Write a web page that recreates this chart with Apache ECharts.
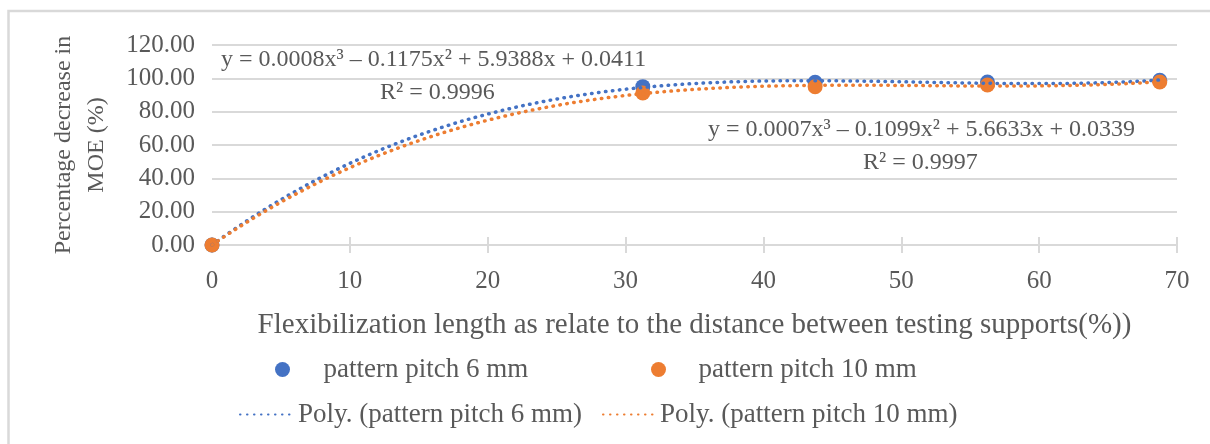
<!DOCTYPE html>
<html>
<head>
<meta charset="utf-8">
<script src="https://cdn.jsdelivr.net/npm/echarts@6/dist/echarts.min.js"></script>
<style>
html, body { margin: 0; padding: 0; background: #fff; }
#chart { width: 1210px; height: 444px; }
</style>
</head>
<body>
<div id="chart"></div>
<script>
// values
var xValues = [0, 31.25, 43.75, 56.25, 68.75];
var pitch6 = [0, 95.0, 97.6, 97.8, 98.8];
var pitch10 = [0, 91.2, 95.0, 96.0, 97.8];
var seriesNames = ['pattern pitch 6 mm', 'pattern pitch 10 mm'];
var trendNames = ['Poly. (pattern pitch 6 mm)', 'Poly. (pattern pitch 10 mm)'];
var equations = ['y = 0.0008x³ – 0.1175x² + 5.9388x + 0.0411', 'y = 0.0007x³ – 0.1099x² + 5.6633x + 0.0339'];
var rSquared = ['R² = 0.9996', 'R² = 0.9997'];
var colors = ['#4472C4', '#ED7D31'];

var FONT = 'Liberation Serif';
var TXT = '#595959';

// least squares polynomial fit (like the excel trendline)
function polyfit(xs, ys, deg) {
    var n = deg + 1, A = [], i, j, k;
    for (i = 0; i < n; i++) {
        A.push([]);
        for (j = 0; j < n; j++) {
            var s = 0;
            xs.forEach(function (x) { s += Math.pow(x, i + j); });
            A[i].push(s);
        }
        var t = 0;
        xs.forEach(function (x, m) { t += ys[m] * Math.pow(x, i); });
        A[i].push(t);
    }
    for (i = 0; i < n; i++) {
        var p = i;
        for (k = i + 1; k < n; k++) if (Math.abs(A[k][i]) > Math.abs(A[p][i])) p = k;
        var tmp = A[i]; A[i] = A[p]; A[p] = tmp;
        for (k = i + 1; k < n; k++) {
            var f = A[k][i] / A[i][i];
            for (j = i; j <= n; j++) A[k][j] -= f * A[i][j];
        }
    }
    var c = new Array(n);
    for (i = n - 1; i >= 0; i--) {
        var s2 = A[i][n];
        for (j = i + 1; j < n; j++) s2 -= A[i][j] * c[j];
        c[i] = s2 / A[i][i];
    }
    return c;
}

function trendPoints(ys) {
    var c = polyfit(xValues, ys, 3);
    var pts = [];
    var xmax = xValues[xValues.length - 1];
    for (var x = 0; x <= xmax + 1e-9; x += 0.25) {
        pts.push([x, c[0] + c[1] * x + c[2] * x * x + c[3] * x * x * x]);
    }
    return pts;
}

function pairs(ys) {
    return xValues.map(function (x, i) { return [x, ys[i]]; });
}

var chart = echarts.init(document.getElementById('chart'));

var legendText = { fontFamily: FONT, fontSize: 27, color: TXT };
var eqFont = '24px "' + FONT + '"';

chart.setOption({
    animation: false,
    textStyle: { fontFamily: FONT },
    grid: { left: 212, right: 33, top: 45, bottom: 199 },
    xAxis: [{
        type: 'value', min: 0, max: 70, interval: 10,
        name: 'Flexibilization length as relate to the distance between testing supports(%))',
        nameLocation: 'middle', nameGap: 66,
        nameTextStyle: { fontFamily: FONT, fontSize: 29, color: TXT },
        axisLine: { show: true, lineStyle: { color: '#d9d9d9', width: 2 } },
        axisTick: { show: true, length: 8, lineStyle: { color: '#d9d9d9', width: 2 } },
        axisLabel: { margin: 24, fontFamily: FONT, fontSize: 25, color: TXT },
        splitLine: { show: false }
    }, {
        type: 'value', min: 0, max: 70, interval: 10, position: 'bottom',
        axisLine: { show: false },
        axisTick: { show: true, inside: true, length: 8, lineStyle: { color: '#d9d9d9', width: 2 } },
        axisLabel: { show: false },
        splitLine: { show: false }
    }],
    yAxis: {
        type: 'value', min: 0, max: 120, interval: 20,
        name: 'Percentage decrease in\nMOE (%)',
        nameLocation: 'middle', nameGap: 99, nameRotate: 90,
        nameTextStyle: { fontFamily: FONT, fontSize: 24, color: TXT, lineHeight: 33 },
        axisLine: { show: false },
        axisTick: { show: false },
        axisLabel: {
            margin: 17, fontFamily: FONT, fontSize: 25, color: TXT,
            formatter: function (v) { return v.toFixed(2); }
        },
        splitLine: { lineStyle: { color: '#d9d9d9', width: 2 } }
    },
    legend: [
        { left: 270, top: 351, itemWidth: 72, itemHeight: 15, textStyle: legendText, data: [{ name: seriesNames[0], icon: 'circle' }] },
        { left: 646, top: 351, itemWidth: 70, itemHeight: 15, textStyle: legendText, data: [{ name: seriesNames[1], icon: 'circle' }] },
        { left: 234, top: 396, itemWidth: 53, itemHeight: 15, textStyle: legendText, itemStyle: { opacity: 0 }, data: [trendNames[0]] },
        { left: 597, top: 396, itemWidth: 52, itemHeight: 15, textStyle: legendText, itemStyle: { opacity: 0 }, data: [trendNames[1]] }
    ],
    graphic: [
        { type: 'rect', shape: { x: 8.5, y: 11, width: 1300, height: 600 }, style: { fill: 'none', stroke: '#d9d9d9', lineWidth: 2.5 }, silent: true },
        { type: 'text', left: 221, top: 48, style: { text: equations[0], font: eqFont, fill: TXT } },
        { type: 'text', left: 380, top: 81, style: { text: rSquared[0], font: eqFont, fill: TXT } },
        { type: 'text', left: 708, top: 118, style: { text: equations[1], font: eqFont, fill: TXT } },
        { type: 'text', left: 863, top: 151, style: { text: rSquared[1], font: eqFont, fill: TXT } }
    ],
    series: [{
        name: seriesNames[0], type: 'scatter', symbolSize: 15, z: 2,
        itemStyle: { color: colors[0], opacity: 1 },
        data: pairs(pitch6)
    }, {
        name: seriesNames[1], type: 'scatter', symbolSize: 15, z: 3,
        itemStyle: { color: colors[1], opacity: 1 },
        data: pairs(pitch10)
    }, {
        name: trendNames[0], type: 'line', symbol: 'none', showSymbol: false, z: 4,
        lineStyle: { color: colors[0], width: 3.5, type: [0.5, 6.5], cap: 'round' },
        itemStyle: { color: colors[0] },
        data: trendPoints(pitch6)
    }, {
        name: trendNames[1], type: 'line', symbol: 'none', showSymbol: false, z: 5,
        lineStyle: { color: colors[1], width: 3.5, type: [0.5, 6.5], cap: 'round' },
        itemStyle: { color: colors[1] },
        data: trendPoints(pitch10)
    }]
});
</script>
</body>
</html>
